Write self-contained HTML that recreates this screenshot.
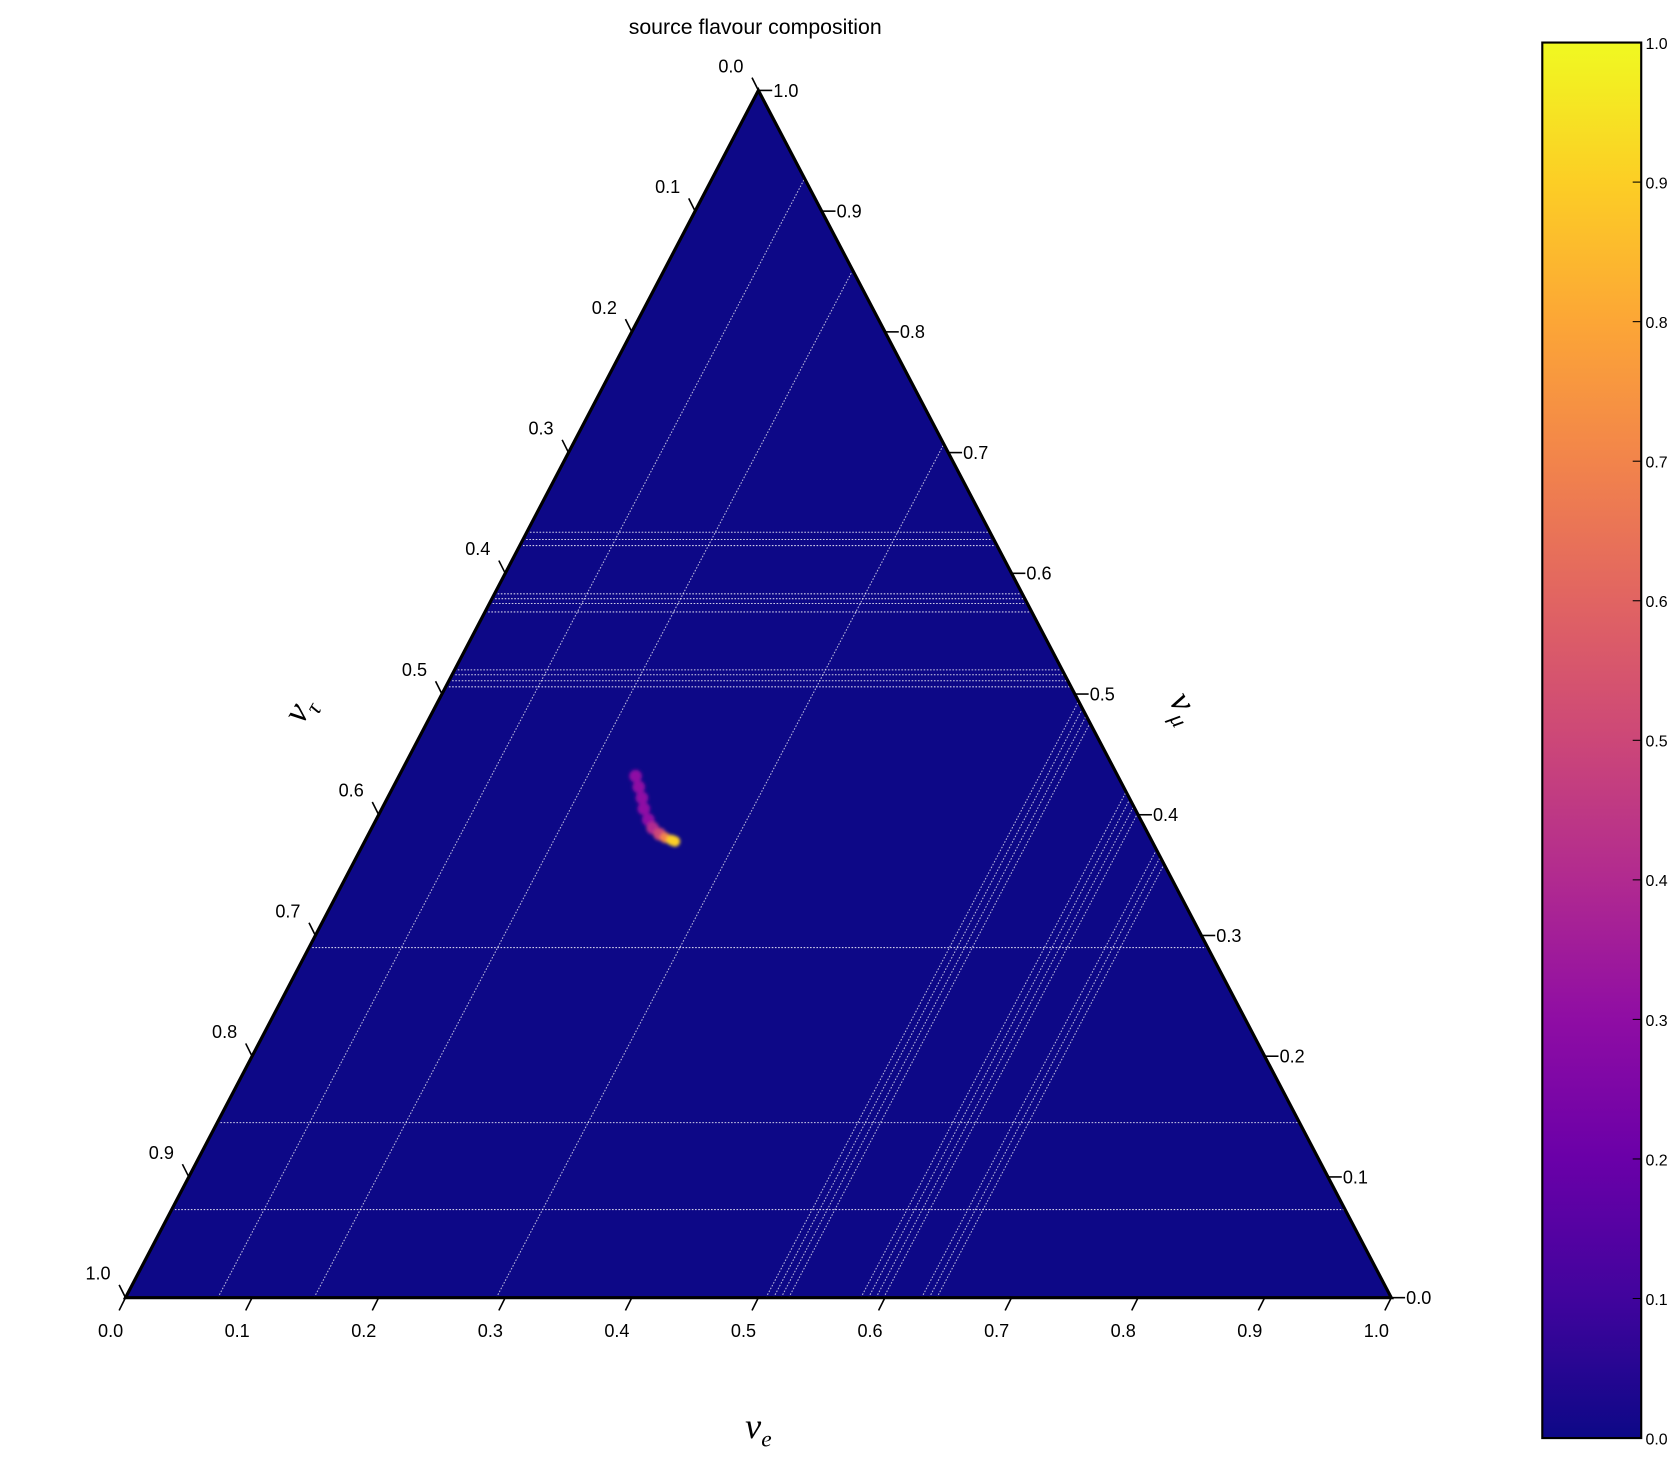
<!DOCTYPE html>
<html><head><meta charset="utf-8"><style>
html,body{margin:0;padding:0;background:#fff;}
svg{display:block;font-family:"Liberation Sans","DejaVu Sans",sans-serif;}
</style></head><body>
<svg id="chart" width="1671" height="1482" viewBox="0 0 1571 1393.3" xmlns="http://www.w3.org/2000/svg">
<defs>
<linearGradient id="plasma" x1="0" y1="1" x2="0" y2="0">
<stop offset="0" stop-color="#0d0887"/><stop offset="0.1" stop-color="#41049d"/>
<stop offset="0.2" stop-color="#6a00a8"/><stop offset="0.3" stop-color="#8f0da4"/>
<stop offset="0.4" stop-color="#b12a90"/><stop offset="0.5" stop-color="#cc4778"/>
<stop offset="0.6" stop-color="#e16462"/><stop offset="0.7" stop-color="#f2844b"/>
<stop offset="0.8" stop-color="#fca636"/><stop offset="0.9" stop-color="#fcce25"/>
<stop offset="1" stop-color="#f0f921"/></linearGradient>
<filter id="blur"><feGaussianBlur stdDeviation="1.5"/></filter>
</defs>
<text x="710" y="32" text-anchor="middle" font-size="20">source flavour composition</text>
<g id="plot"></g>
</svg>
<script>
// data
const contourMu = [0.634,0.628,0.623,0.583,0.579,0.575,0.568,0.520,0.516,0.511,0.506,0.290,0.145,0.073];
const contourE = [0.073,0.149,0.293,0.506,0.512,0.518,0.524,0.581,0.587,0.593,0.599,0.629,0.635,0.641];
const blobE = [0.187,0.194,0.201,0.207,0.215,0.222,0.230,0.236,0.242,0.245];
const blobMu = [0.432,0.423,0.414,0.405,0.396,0.389,0.384,0.381,0.379,0.378];
const blobVal = [0.25,0.3,0.28,0.3,0.3,0.35,0.45,0.7,0.9,0.85];
const tickVals = [0,0.1,0.2,0.3,0.4,0.5,0.6,0.7,0.8,0.9,1.0];

const NS="http://www.w3.org/2000/svg";
const g=document.getElementById('plot');
const BL=[118,1220],BR=[1308,1220],TP=[713,85];
function pt(e,mu){const t=1-e-mu;return [t*BL[0]+e*BR[0]+mu*TP[0], t*BL[1]+e*BR[1]+mu*TP[1]];}
function mk(tag,attrs){const el=document.createElementNS(NS,tag);for(const k in attrs)el.setAttribute(k,attrs[k]);g.appendChild(el);return el;}
const stops=[[0,'#0d0887'],[0.1,'#41049d'],[0.2,'#6a00a8'],[0.3,'#8f0da4'],[0.4,'#b12a90'],[0.5,'#cc4778'],[0.6,'#e16462'],[0.7,'#f2844b'],[0.8,'#fca636'],[0.9,'#fcce25'],[1,'#f0f921']];
function cmap(v){for(let i=1;i<stops.length;i++){if(v<=stops[i][0])return stops[i][1];}return stops[stops.length-1][1];}

let el=mk('polygon',{points:[BL,BR,TP].map(p=>p.join(',')).join(' '),fill:'#0d0887'});



contourMu.forEach(mu=>{const a=pt(0,mu),b=pt(1-mu,mu);
 const l=mk('line',{x1:a[0],y1:a[1],x2:b[0],y2:b[1],stroke:'#fff','stroke-width':1,'stroke-dasharray':'1.5,1.5',opacity:0.8});
 
 });
contourE.forEach(e=>{const a=pt(e,0),b=pt(e,1-e);
 const l=mk('line',{x1:a[0],y1:a[1],x2:b[0],y2:b[1],stroke:'#fff','stroke-width':1,'stroke-dasharray':'1.5,1.5',opacity:0.7});
 
 });

const bg=document.createElementNS(NS,'g');bg.setAttribute('filter','url(#blur)');g.appendChild(bg);
blobE.forEach((e,i)=>{const p=pt(e,blobMu[i]);const c=document.createElementNS(NS,'circle');
 c.setAttribute('cx',p[0]);c.setAttribute('cy',p[1]);c.setAttribute('r',i>=7?5:6);c.setAttribute('fill',cmap(blobVal[i]));
 
 
 bg.appendChild(c);});

el=mk('polygon',{points:[BL,BR,TP].map(p=>p.join(',')).join(' '),fill:'none',stroke:'#000','stroke-width':3});



tickVals.forEach(v=>{
 let p=pt(v,0);
 let t=mk('line',{x1:p[0],y1:p[1],x2:p[0]-6,y2:p[1]+12,stroke:'#000','stroke-width':1.5});
 
 let tx=mk('text',{x:p[0]-14,y:p[1]+37,'text-anchor':'middle','font-size':17});tx.textContent=v.toFixed(1);
 
 p=pt(1-v,v);
 t=mk('line',{x1:p[0],y1:p[1],x2:p[0]+13,y2:p[1],stroke:'#000','stroke-width':1.5});
 
 tx=mk('text',{x:p[0]+14,y:p[1]+6,'font-size':17});tx.textContent=v.toFixed(1);
 
 p=pt(0,1-v);
 t=mk('line',{x1:p[0],y1:p[1],x2:p[0]-6,y2:p[1]-12,stroke:'#000','stroke-width':1.5});
 
 tx=mk('text',{x:p[0]-14,y:p[1]-17,'text-anchor':'end','font-size':17});tx.textContent=v.toFixed(1);
 
});

let lab=mk('text',{x:713,y:1352,'text-anchor':'middle','font-size':34,'font-family':'Liberation Serif, serif','font-style':'italic'});
lab.innerHTML='ν<tspan font-size="22" dy="8">e</tspan>';

lab=mk('text',{x:0,y:0,'text-anchor':'middle','font-size':34,'font-family':'Liberation Serif, serif','font-style':'italic',transform:'translate(290,672) rotate(-60)'});
lab.innerHTML='ν<tspan font-size="22" dy="8">τ</tspan>';

lab=mk('text',{x:0,y:0,'text-anchor':'middle','font-size':34,'font-family':'Liberation Serif, serif','font-style':'italic',transform:'translate(1105,670) rotate(60)'});
lab.innerHTML='ν<tspan font-size="22" dy="8">μ</tspan>';


const cbX=1450,cbY=40,cbW=93,cbH=1312;
el=mk('rect',{x:cbX,y:cbY,width:cbW,height:cbH,fill:'url(#plasma)',stroke:'#000','stroke-width':2});

tickVals.forEach(v=>{const y=cbY+cbH*(1-v);
 let t=mk('line',{x1:cbX+cbW-8,y1:y,x2:cbX+cbW,y2:y,stroke:'#000','stroke-width':1});
 
 let tx=mk('text',{x:cbX+cbW+4,y:y+6,'font-size':15});tx.textContent=v.toFixed(1);
 });
</script>
</body></html>
